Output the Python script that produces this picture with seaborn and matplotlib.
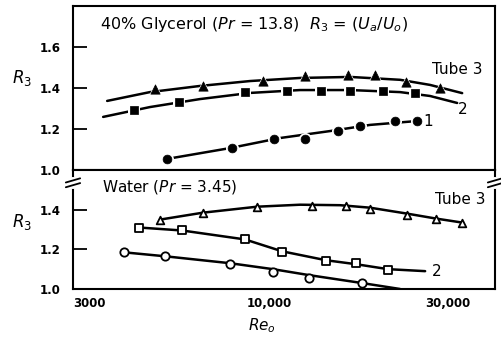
import matplotlib
matplotlib.use("Agg")
import matplotlib.pyplot as plt
import matplotlib.ticker as mticker
import seaborn as sns

sns.set_style("white", {"text.color": "black", "axes.labelcolor": "black",
                        "xtick.color": "black", "ytick.color": "black",
                        "axes.edgecolor": "black"})

# ---- 40% glycerol (top panel), filled markers ----
gly_tube3_re = [4960, 6670, 9630, 12470, 16240, 19160, 23180, 28570]
gly_tube3_r = [1.395, 1.41, 1.434, 1.459, 1.463, 1.463, 1.43, 1.40]
gly_tube2_re = [4360, 5750, 8620, 11160, 13760, 16440, 20130, 24500]
gly_tube2_r = [1.293, 1.332, 1.38, 1.385, 1.385, 1.385, 1.385, 1.375]
gly_tube1_re = [5340, 7960, 10310, 12470, 15270, 17470, 21670, 24800]
gly_tube1_r = [1.054, 1.107, 1.151, 1.151, 1.19, 1.215, 1.239, 1.239]

# faired curves through the glycerol data
gly_fit3_re = [3700, 4810, 6540, 8900, 12090, 16440, 22340, 26860, 32700]
gly_fit3_r = [1.337, 1.38, 1.41, 1.434, 1.449, 1.454, 1.44, 1.415, 1.375]
gly_fit2_re = [3610, 4810, 6540, 8900, 12090, 16440, 22340, 26860, 31710]
gly_fit2_r = [1.259, 1.307, 1.346, 1.376, 1.39, 1.39, 1.38, 1.361, 1.327]
gly_fit1_re = [5340, 7870, 10690, 14540, 18580, 24800]
gly_fit1_r = [1.054, 1.107, 1.156, 1.19, 1.22, 1.239]

# ---- water (bottom panel), open markers ----
wat_tube3_re = [5120, 6670, 9290, 13010, 16040, 18580, 23330, 27870, 32700]
wat_tube3_r = [1.35, 1.385, 1.415, 1.42, 1.42, 1.405, 1.375, 1.355, 1.335]
wat_tube2_re = [4500, 5860, 8620, 10830, 14180, 17050, 20750]
wat_tube2_r = [1.31, 1.30, 1.25, 1.185, 1.14, 1.13, 1.095]
wat_tube1_re = [4100, 5280, 7870, 10240, 12780, 17690]
wat_tube1_r = [1.185, 1.165, 1.125, 1.085, 1.055, 1.03]

wat_fit3_re = [5120, 6670, 9290, 12090, 15460, 18580, 23330, 27870, 32700]
wat_fit3_r = [1.35, 1.385, 1.415, 1.425, 1.4225, 1.41, 1.38, 1.355, 1.335]
wat_fit2_re = [4500, 5860, 8620, 10830, 14180, 17050, 20750, 26050]
wat_fit2_r = [1.31, 1.295, 1.25, 1.19, 1.145, 1.125, 1.10, 1.09]
wat_fit1_re = [4100, 5280, 7870, 10240, 12780, 17690, 22340]
wat_fit1_r = [1.185, 1.165, 1.13, 1.10, 1.07, 1.03, 1.0]

x_major = [3000, 10000, 30000]
x_major_labels = ["3000", "10,000", "30,000"]
x_minor = [4000, 5000, 6000, 7000, 8000, 9000, 20000]
y_top_ticks = [1.0, 1.2, 1.4, 1.6]
y_bot_ticks = [1.0, 1.2, 1.4]

fig = plt.figure(figsize=(5.02, 3.43), dpi=100)
ax1 = fig.add_axes([73/502, 1-170/343, 422/502, 164/343])
ax2 = fig.add_axes([73/502, 1-289/343, 422/502, 119/343])

tickfont = dict(fontsize=8.5, fontweight="bold")


def draw(ax, fit_re, fit_r, re, r, marker, size, filled):
    sns.lineplot(x=fit_re, y=fit_r, ax=ax, color="black", lw=1.8, sort=False)
    if filled:
        # white halo leaves the little gaps round the points
        sns.scatterplot(x=re, y=r, ax=ax, marker=marker, s=size*2.2,
                        color="white", edgecolor="white", linewidth=0, zorder=3)
        sns.scatterplot(x=re, y=r, ax=ax, marker=marker, s=size,
                        color="black", edgecolor="black", linewidth=0.5, zorder=4)
    else:
        sns.scatterplot(x=re, y=r, ax=ax, marker=marker, s=size,
                        color="white", edgecolor="black", linewidth=1.3, zorder=4)


draw(ax1, gly_fit3_re, gly_fit3_r, gly_tube3_re, gly_tube3_r, "^", 45, True)
draw(ax1, gly_fit2_re, gly_fit2_r, gly_tube2_re, gly_tube2_r, "s", 36, True)
draw(ax1, gly_fit1_re, gly_fit1_r, gly_tube1_re, gly_tube1_r, "o", 40, True)

draw(ax2, wat_fit3_re, wat_fit3_r, wat_tube3_re, wat_tube3_r, "^", 30, False)
draw(ax2, wat_fit2_re, wat_fit2_r, wat_tube2_re, wat_tube2_r, "s", 34, False)
draw(ax2, wat_fit1_re, wat_fit1_r, wat_tube1_re, wat_tube1_r, "o", 36, False)

for ax in (ax1, ax2):
    ax.set_xscale("log")
    ax.set_xlim(3000, 40000)
    for s in ax.spines.values():
        s.set_linewidth(1.5)
        s.set_color("black")
    ax.tick_params(axis="y", direction="in", length=10, width=1.3, left=True, pad=9)
    ax.tick_params(axis="x", which="both", direction="in", width=1.2)
    ax.set_xlabel("")
    ax.set_ylabel("")

ax1.set_ylim(1.0, 1.8)
ax1.set_yticks(y_top_ticks)
ax1.set_yticklabels([f"{v:.1f}" for v in y_top_ticks], **tickfont)
ax1.set_xticks([])
ax1.xaxis.set_minor_locator(mticker.NullLocator())

ax2.set_ylim(1.0, 1.6)
ax2.set_yticks(y_bot_ticks)
ax2.set_yticklabels([f"{v:.1f}" for v in y_bot_ticks], **tickfont)
ax2.set_xticks(x_major)
ax2.set_xticklabels(x_major_labels, **tickfont)
ax2.get_xticklabels()[0].set_horizontalalignment("left")
ax2.set_xticks(x_minor, minor=True)
ax2.xaxis.set_minor_formatter(mticker.NullFormatter())
ax2.tick_params(axis="x", which="major", length=9, pad=6)
ax2.tick_params(axis="x", which="minor", length=7)

for ax, yc in ((ax1, 0.5), (ax2, 0.48)):
    ax.set_ylabel("$R_3$", rotation=0, fontsize=12)
    ax.yaxis.set_label_coords(-0.12, yc)
ax2.set_xlabel("$Re_o$", fontsize=11)
ax2.xaxis.set_label_coords(0.448, -0.23)

# panel captions and curve labels
ax1.text(0.065, 0.885, "40% Glycerol ($Pr$ = 13.8)  $R_3$ = ($U_a/U_o$)",
         transform=ax1.transAxes, fontsize=11.5, va="center")
ax2.text(0.068, 0.86, "Water ($Pr$ = 3.45)", transform=ax2.transAxes,
         fontsize=11, va="center")
ax1.text(0.91, 0.61, "Tube 3", transform=ax1.transAxes, fontsize=11,
         ha="center", va="center")
ax1.text(0.924, 0.366, "2", transform=ax1.transAxes, fontsize=11,
         ha="center", va="center")
ax1.text(0.842, 0.293, "1", transform=ax1.transAxes, fontsize=11,
         ha="center", va="center")
ax2.text(0.917, 0.748, "Tube 3", transform=ax2.transAxes, fontsize=11,
         ha="center", va="center")
ax2.text(0.862, 0.151, "2", transform=ax2.transAxes, fontsize=11,
         ha="center", va="center")

# axis break marks on both sides of the lower panel
for xb in (0.0, 1.0):
    ax2.plot([xb, xb], [0.86, 0.925], transform=ax2.transAxes, color="white",
             lw=3, clip_on=False, zorder=5)
    for y0 in (0.855, 0.895):
        ax2.plot([xb-0.017, xb+0.017], [y0, y0+0.035], transform=ax2.transAxes,
                 color="black", lw=1.3, clip_on=False, zorder=6)

fig.savefig("out.png", dpi=100)
